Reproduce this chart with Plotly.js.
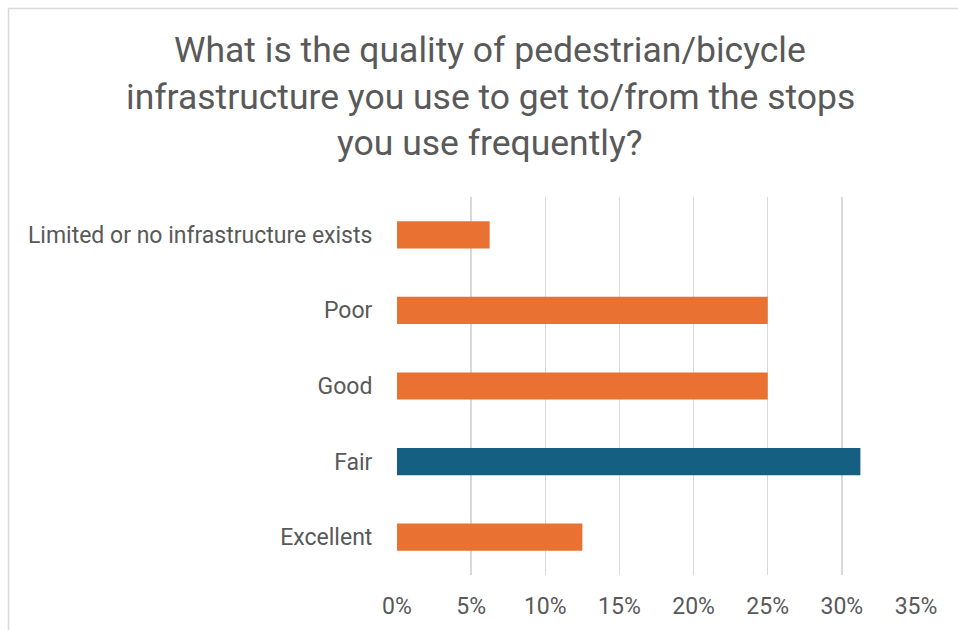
<!DOCTYPE html>
<html>
<head>
<meta charset="utf-8">
<script src="https://cdn.plot.ly/plotly-3.0.1.min.js"></script>
<style>html,body{margin:0;padding:0;background:#fff;} #chart{width:958px;height:630px;}</style>
</head>
<body>
<div id="chart"></div>
<script>
var categories = ['Excellent', 'Fair', 'Good', 'Poor', 'Limited or no infrastructure exists'];
var shares = [0.125, 0.3125, 0.25, 0.25, 0.0625];
var barColors = ['#E97132', '#156082', '#E97132', '#E97132', '#E97132'];
var titleLines = ['What is the quality of pedestrian/bicycle', 'infrastructure you use to get to/from the stops', 'you use frequently?'];
var xTicks = [0, 0.05, 0.10, 0.15, 0.20, 0.25, 0.30, 0.35];

var W = 958, H = 630;
var m = {l: 397, r: 42, t: 197, b: 55};
var pw = W - m.l - m.r, ph = H - m.t - m.b;
function px2x(p){ return (p - m.l) / pw; }
function py2y(p){ return 1 - (p - m.t) / ph; }

var font = 'Roboto, "Open Sans", sans-serif';
var grey = '#595959';

var titleY = [50, 97, 143];
var annotations = titleLines.map(function(t, i){
  return {text: t, xref: 'paper', yref: 'paper', x: px2x(490), y: py2y(titleY[i]),
    xanchor: 'center', yanchor: 'middle', showarrow: false,
    font: {family: font, size: 35.5, color: grey}};
});

var trace = {
  type: 'bar', orientation: 'h',
  y: categories, x: shares,
  marker: {color: barColors},
  width: 0.36,
  hoverinfo: 'none'
};

var layout = {
  width: W, height: H,
  margin: m,
  paper_bgcolor: '#fff', plot_bgcolor: '#fff',
  showlegend: false,
  font: {family: font, size: 23, color: grey},
  xaxis: {
    range: [0, 0.35], tickvals: xTicks, tickformat: '.0%',
    showgrid: true, gridcolor: '#d9d9d9', gridwidth: 1.5,
    zeroline: false, showline: false,
    ticks: 'outside', ticklen: 10, tickcolor: 'rgba(0,0,0,0)',
    tickfont: {family: font, size: 23, color: grey},
    fixedrange: true
  },
  yaxis: {
    type: 'category', range: [-0.5, 4.5],
    showgrid: false, zeroline: false, showline: false,
    ticks: 'outside', ticklen: 19, tickcolor: 'rgba(0,0,0,0)',
    tickfont: {family: font, size: 23, color: grey},
    fixedrange: true
  },
  annotations: annotations,
  shapes: [{
    type: 'rect', xref: 'paper', yref: 'paper', layer: 'below',
    x0: px2x(8.5), x1: px2x(1000), y0: py2y(700), y1: py2y(8.5),
    line: {color: '#d9d9d9', width: 1.5}, fillcolor: 'rgba(0,0,0,0)'
  }]
};

Plotly.newPlot('chart', [trace], layout, {displayModeBar: false, staticPlot: true});
</script>
</body>
</html>
